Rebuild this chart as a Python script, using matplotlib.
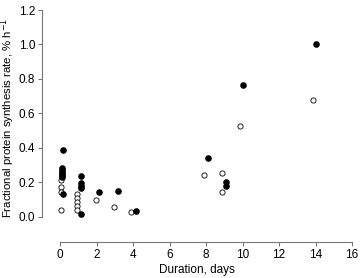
import matplotlib
matplotlib.use("Agg")
import matplotlib.pyplot as plt

plt.rcParams['font.family'] = ['Liberation Sans', 'DejaVu Sans']

# filled circles
filled_days = [0.15, 0.1, 0.1, 0.1, 0.1, 0.1, 0.1, 0.15,
               1.15, 1.15, 1.15, 1.15, 1.15,
               2.15, 3.15, 4.15, 8.1, 9.1, 9.1, 10.05, 14.05]
filled_rate = [0.385, 0.285, 0.27, 0.26, 0.25, 0.24, 0.23, 0.135,
               0.235, 0.195, 0.18, 0.165, 0.015,
               0.147, 0.151, 0.033, 0.341, 0.2, 0.18, 0.763, 1.005]

# open circles
open_days = [0.05, 0.05, 0.05, 0.05,
             0.95, 0.95, 0.95, 0.95, 0.95,
             1.95, 2.95, 3.9, 7.9, 8.9, 8.9, 9.85, 13.85]
open_rate = [0.212, 0.172, 0.147, 0.037,
             0.135, 0.11, 0.085, 0.062, 0.04,
             0.095, 0.056, 0.03, 0.242, 0.254, 0.145, 0.529, 0.676]

fig = plt.figure(figsize=(3.6, 2.78), dpi=100)
ax = fig.add_axes([0.117, 0.13, 0.861, 0.834])

ax.scatter(open_days, open_rate, s=14, facecolors='white', edgecolors='black',
           linewidths=0.6, zorder=2)
ax.scatter(filled_days, filled_rate, s=14, color='black', zorder=3)

ax.set_xlim(-0.98, 16)
ax.set_ylim(-0.145, 1.2)
ax.set_xticks(range(0, 17, 2))
ax.set_yticks([0.0, 0.2, 0.4, 0.6, 0.8, 1.0, 1.2])
ax.set_yticklabels(['0.0', '0.2', '0.4', '0.6', '0.8', '1.0', '1.2'])

for side in ['top', 'right']:
    ax.spines[side].set_visible(False)
ax.spines['left'].set_bounds(0, 1.2)
ax.spines['bottom'].set_bounds(0, 16)
for side in ['left', 'bottom']:
    ax.spines[side].set_color('#777777')
    ax.spines[side].set_linewidth(0.8)
ax.tick_params(length=3, width=0.8, color='#777777', labelsize=8.5, pad=2)

ax.set_xlabel('Duration, days', fontsize=8.5, labelpad=2)
ax.set_ylabel('Fractional protein synthesis rate, % h$^{-1}$', fontsize=8.2)
ax.yaxis.set_label_coords(-0.08, 0.535)

fig.savefig('out.png', dpi=100)
